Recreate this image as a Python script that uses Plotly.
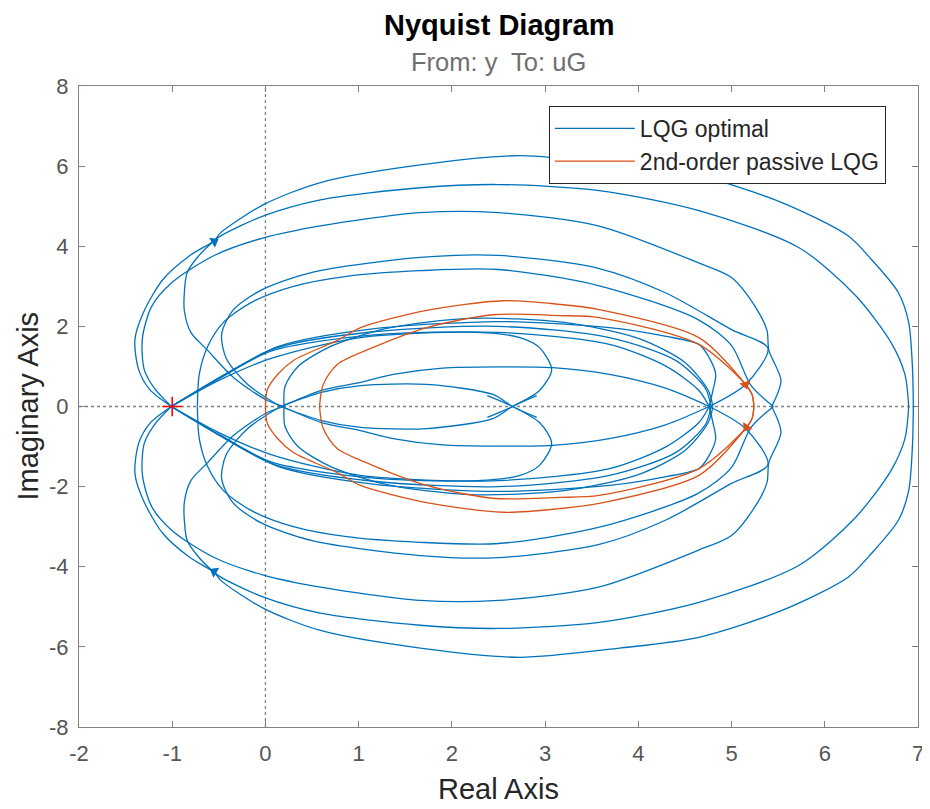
import plotly.graph_objects as go

# ---- traced Nyquist segments (lower half, y <= 0); the upper half is the mirror image ----
A_x = [6.95, 6.94, 6.90, 6.79, 6.50, 6.25, 5.54, 4.65, 3.80, 2.73, 1.66, 0.59, -0.02, -0.48, -0.55, -0.81, -1.10, -1.31, -1.40, -1.36, -1.24, -1.01]
A_y = [0.0, -1.00, -2.10, -2.84, -3.67, -4.26, -5.09, -5.76, -6.03, -6.26, -6.03, -5.59, -5.04, -4.34, -4.14, -3.77, -3.17, -2.34, -1.67, -0.92, -0.42, 0.0]

B_x = [6.90, 6.86, 6.71, 6.33, 5.72, 4.65, 3.58, 2.50, 1.66, 0.59, -0.02, -0.48, -0.55, -0.72, -0.84, -0.87, -0.87, -0.80, -0.62, -0.34, 0.02, 0.20]
B_y = [0.0, -0.80, -1.60, -2.77, -3.97, -4.89, -5.39, -5.54, -5.46, -5.16, -4.76, -4.26, -4.14, -3.75, -3.34, -2.84, -2.39, -1.85, -1.40, -0.72, -0.15, 0.0]

C_x = [5.43, 5.53, 5.40, 5.38, 5.26, 5.00, 4.64, 3.57, 2.50, 1.66, 0.59, -0.02, -0.55, -1.00, -1.22, -1.32, -1.30, -1.19, -1.01]
C_y = [0.0, -0.65, -1.40, -1.90, -2.47, -3.22, -3.59, -4.51, -4.84, -4.84, -4.51, -4.21, -3.77, -3.10, -2.50, -1.70, -0.92, -0.45, 0.0]

D_x = [-0.73, -0.71, -0.62, -0.45, -0.15, 0.30, 0.87, 1.66, 2.50, 3.57, 4.64, 5.00, 5.21, 5.45]
D_y = [0.0, -0.80, -1.50, -2.10, -2.60, -3.00, -3.25, -3.39, -3.42, -3.02, -2.17, -1.52, -0.52, 0.0]

E_x = [0.16, -0.19, -0.42, -0.47, -0.35, -0.05, 0.50, 1.66, 2.50, 3.57, 4.29, 5.00, 5.39, 5.15, 4.76]
E_y = [0.0, -0.55, -1.20, -1.80, -2.40, -2.90, -3.35, -3.72, -3.77, -3.45, -2.84, -1.92, -1.45, -0.55, 0.0]

F1_x = [-1.01, -0.48, 0.06, 1.13, 2.50, 3.69, 4.30, 4.65, 4.76]
F1_y = [0.0, -0.72, -1.38, -1.78, -1.85, -1.55, -1.00, -0.40, 0.0]

F2_x = [-1.01, -0.45, 0.10, 1.13, 2.50, 3.69, 4.40, 4.72, 4.78]
F2_y = [0.0, -0.78, -1.45, -1.86, -2.00, -1.72, -1.15, -0.45, 0.0]

F3_x = [-1.01, -0.42, 0.14, 1.13, 2.50, 3.69, 4.30, 4.65, 4.76, 4.83, 4.80, 4.76]
F3_y = [0.0, -0.82, -1.50, -1.93, -2.12, -1.97, -1.75, -1.55, -1.22, -0.80, -0.40, 0.0]

S_x = [-1.01, -0.50, 0.06, 1.02, 2.27, 2.73, 2.94, 3.07, 2.94, 2.65, 2.38]
S_y = [0.0, -0.65, -1.20, -1.72, -1.85, -1.72, -1.47, -0.92, -0.40, 0.0, 0.27]

G1_x = [0.20, 0.21, 0.35, 0.70, 1.30, 2.20, 3.20, 4.00, 4.50, 4.75, 4.80]
G1_y = [0.0, -0.50, -1.00, -1.50, -1.95, -2.20, -2.10, -1.70, -1.10, -0.40, 0.0]

H1_x = [0.18, 0.60, 1.02, 1.37, 1.90, 2.50, 3.08, 3.69, 4.30, 4.76]
H1_y = [0.0, -0.40, -0.60, -0.80, -0.96, -0.99, -0.97, -0.80, -0.45, 0.0]

H2_x = [0.16, 0.60, 1.02, 1.73, 2.44, 2.65, 2.91]
H2_y = [0.0, -0.35, -0.52, -0.55, -0.30, 0.0, 0.27]

# 2nd-order passive LQG (lower half)
O1_x = [0.00, 0.02, 0.13, 0.30, 0.77, 1.02, 1.73, 2.55, 3.15, 3.58, 4.65, 5.15, 5.22, 5.24]
O1_y = [0.0, -0.42, -0.80, -1.15, -1.65, -1.97, -2.40, -2.64, -2.55, -2.42, -1.72, -0.55, -0.30, 0.0]

O2_x = [0.58, 0.62, 0.77, 1.13, 1.73, 2.44, 3.15, 3.58, 4.65, 5.15, 5.22, 5.24]
O2_y = [0.0, -0.55, -1.05, -1.45, -1.97, -2.29, -2.27, -2.22, -1.55, -0.55, -0.30, 0.0]

# direction arrows
blue_arrow_x = [-0.55, -0.55]
blue_arrow_y = [4.12, -4.12]
blue_arrow_ang = [60, -60]
orange_arrow_x = [5.15, 5.16]
orange_arrow_y = [0.55, -0.52]
orange_arrow_ang = [165, 215]

x_ticks = [-2, -1, 0, 1, 2, 3, 4, 5, 6, 7]
y_ticks = [-8, -6, -4, -2, 0, 2, 4, 6, 8]

BLUE = "#0072BD"
ORANGE = "#D95319"
FONT = "Liberation Sans, Arial, Helvetica, sans-serif"

blue_segs = [(A_x, A_y), (B_x, B_y), (C_x, C_y), (D_x, D_y), (E_x, E_y),
             (F1_x, F1_y), (F2_x, F2_y), (F3_x, F3_y), (S_x, S_y),
             (G1_x, G1_y), (H1_x, H1_y), (H2_x, H2_y)]
orange_segs = [(O1_x, O1_y), (O2_x, O2_y)]


def both_halves(segs):
    xs, ys = [], []
    for sx, sy in segs:
        xs += list(sx) + [None]
        ys += list(sy) + [None]
        xs += list(sx) + [None]
        ys += [-v for v in sy] + [None]
    return xs, ys


fig = go.Figure()

bx, by = both_halves(blue_segs)
ox, oy = both_halves(orange_segs)

fig.add_trace(go.Scatter(x=bx, y=by, mode="lines", name="LQG optimal",
                         line=dict(color=BLUE, width=1.3, shape="spline", smoothing=0.8),
                         legendgroup="a"))
fig.add_trace(go.Scatter(x=ox, y=oy, mode="lines", name="2nd-order passive LQG",
                         line=dict(color=ORANGE, width=1.3, shape="spline", smoothing=0.8),
                         legendgroup="b"))

fig.add_trace(go.Scatter(x=blue_arrow_x, y=blue_arrow_y, mode="markers", showlegend=False,
                         marker=dict(symbol="triangle-up", size=10, color=BLUE, angle=blue_arrow_ang)))
fig.add_trace(go.Scatter(x=orange_arrow_x, y=orange_arrow_y, mode="markers", showlegend=False,
                         marker=dict(symbol="triangle-up", size=10, color=ORANGE, angle=orange_arrow_ang)))
fig.add_trace(go.Scatter(x=[-1], y=[0], mode="markers", showlegend=False,
                         marker=dict(symbol="cross-thin", size=14, line=dict(color="red", width=1.6))))

AX = "#808080"
TICKC = "#555555"
axis_common = dict(showgrid=False, zeroline=False, showline=True, linecolor=AX, linewidth=1,
                   mirror="ticks", ticks="inside", ticklen=6, tickcolor=AX, automargin=False)

# the page body adds an 8 px offset, so the figure is sized 922x801
fig.update_layout(
    width=922, height=801,
    margin=dict(l=71, r=12, t=78, b=82),
    plot_bgcolor="white", paper_bgcolor="white",
    xaxis=dict(range=[-2, 7], tickvals=x_ticks, ticktext=[str(v) for v in x_ticks],
               ticklabelstandoff=7, tickfont=dict(family=FONT, size=22, color=TICKC), **axis_common),
    yaxis=dict(range=[-8, 8], tickvals=y_ticks, ticktext=[str(v) for v in y_ticks],
               ticklabelstandoff=5, tickfont=dict(family=FONT, size=22, color=TICKC), **axis_common),
    legend=dict(x=0.560, y=0.969, xanchor="left", yanchor="top",
                bgcolor="white", bordercolor="#262626", borderwidth=1,
                font=dict(family=FONT, size=23, color="#262626"),
                itemwidth=80, tracegroupgap=0),
    shapes=[
        dict(type="line", xref="x", yref="paper", x0=0, x1=0, y0=0, y1=1,
             line=dict(color="#808080", width=1.3, dash="dot"), layer="below"),
        dict(type="line", xref="paper", yref="y", x0=0, x1=1, y0=0, y1=0,
             line=dict(color="#808080", width=1.3, dash="dot"), layer="below"),
    ],
    annotations=[
        dict(text="<b>Nyquist Diagram</b>", xref="paper", yref="paper", x=0.5, y=1,
             yanchor="middle", yshift=61, showarrow=False,
             font=dict(family=FONT, size=29, color="black")),
        dict(text="From: y  To: uG", xref="paper", yref="paper", x=0.5, y=1,
             yanchor="middle", yshift=24, showarrow=False,
             font=dict(family=FONT, size=25.5, color="#707070")),
        dict(text="Real Axis", xref="paper", yref="paper", x=0.5, y=0,
             yanchor="middle", yshift=-62, showarrow=False,
             font=dict(family=FONT, size=29, color="#262626")),
        dict(text="Imaginary Axis", xref="paper", yref="paper", x=0, y=0.5,
             xanchor="center", yanchor="middle", xshift=-52, textangle=-90, showarrow=False,
             font=dict(family=FONT, size=29, color="#262626")),
    ],
)

fig.write_html("out.html")
